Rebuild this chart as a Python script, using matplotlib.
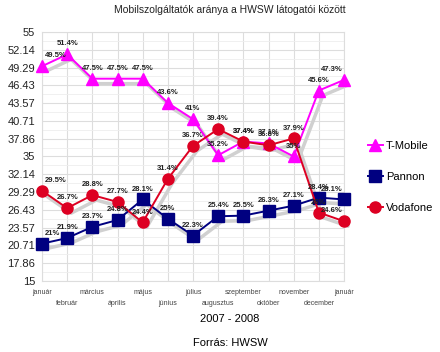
import numpy as np
import matplotlib
matplotlib.use("Agg")
import matplotlib.pyplot as plt
import matplotlib.transforms as mtransforms

plt.rcParams["font.family"] = ["Liberation Sans", "DejaVu Sans"]

months = ["január", "február", "március", "április", "május", "június", "július",
          "augusztus", "szeptember", "október", "november", "december", "január"]
tmobile = [49.5, 51.4, 47.5, 47.5, 47.5, 43.6, 41, 35.2, 37.4, 37.1, 35, 45.6, 47.3]
pannon = [21, 21.9, 23.7, 24.8, 28.1, 25, 22.3, 25.4, 25.5, 26.3, 27.1, 28.4, 28.1]
vodafone = [29.5, 26.7, 28.8, 27.7, 24.4, 31.4, 36.7, 39.4, 37.4, 36.8, 37.9, 26, 24.6]
yticks = [15, 17.86, 20.71, 23.57, 26.43, 29.29, 32.14, 35, 37.86, 40.71, 43.57,
          46.43, 49.29, 52.14, 55]

fig = plt.figure(figsize=(4.4, 3.52), dpi=100)
ax = fig.add_axes([42 / 440, 1 - 281 / 352, (344 - 42) / 440, (281 - 32) / 352])

x = np.arange(len(months))
series = [("T-Mobile", tmobile, "#ff00ff", "^"),
          ("Pannon", pannon, "#000080", "s"),
          ("Vodafone", vodafone, "#dd0022", "o")]

# szürke árnyék a vonalak alatt
shadow = ax.transData + mtransforms.ScaledTranslation(4 / 100, -5 / 100, fig.dpi_scale_trans)
for name, vals, col, mk in series:
    ax.plot(x, vals, color="#d0d0d0", lw=2.5, transform=shadow, zorder=2,
            solid_capstyle="round", clip_on=False)

handles = []
last = len(x) - 1
for name, vals, col, mk in series:
    h, = ax.plot(x, vals, color=col, lw=1.4, marker=mk, markersize=8, label=name,
                 zorder=3, clip_on=False)
    handles.append(h)
    for xi, v in zip(x, vals):
        ha, dx = "center", 0
        if xi == 0:
            ha, dx = "left", 2
        elif xi == last:
            ha, dx = "right", -1
        ax.annotate(f"{v:g}%", (xi, v), xytext=(dx, 5), textcoords="offset points",
                    ha=ha, va="bottom", fontsize=5.5, fontweight="bold",
                    color="#222222", zorder=4)

ax.set_xlim(0, 12)
ax.set_ylim(15, 55)
ax.set_yticks(yticks)
ax.set_yticklabels([f"{t:g}" for t in yticks], fontsize=8, color="#222222")
ax.set_yticks([(a + b) / 2 for a, b in zip(yticks[:-1], yticks[1:])], minor=True)
ax.tick_params(axis="y", which="both", length=0, pad=5)

# hónapok két sorban: páros indexek fent, páratlanok lent
ax.set_xticks(x[::2])
ax.set_xticklabels(months[::2], fontsize=5, color="#444444")
ax.set_xticks(x[1::2], minor=True)
ax.set_xticklabels(months[1::2], minor=True, fontsize=5, color="#444444")
ax.tick_params(axis="x", which="major", length=0, pad=6)
ax.tick_params(axis="x", which="minor", length=0, pad=14)

ax.grid(True, which="major", color="#dddddd", lw=0.8)
ax.grid(True, which="minor", color="#eeeeee", lw=0.6)
ax.grid(True, which="minor", axis="x", color="#dddddd", lw=0.8)
for s in ax.spines.values():
    s.set_color("#dddddd")
ax.set_axisbelow(True)

ax.legend(handles=handles, loc="upper left", bbox_to_anchor=(1.065, 0.58), frameon=False,
          fontsize=8, handlelength=1.3, handletextpad=0.3, labelspacing=1.9,
          borderaxespad=0, markerscale=1.0)

fig.text(230 / 440, 1 - 10 / 352, "Mobilszolgáltatók aránya a HWSW látogatói között",
         ha="center", va="center", fontsize=7.5, color="#222222")
fig.text(230 / 440, 1 - 319 / 352, "2007 - 2008", ha="center", va="center", fontsize=8)
fig.text(230 / 440, 1 - 343 / 352, "Forrás: HWSW", ha="center", va="center", fontsize=8)

fig.savefig("out.png", dpi=100)
